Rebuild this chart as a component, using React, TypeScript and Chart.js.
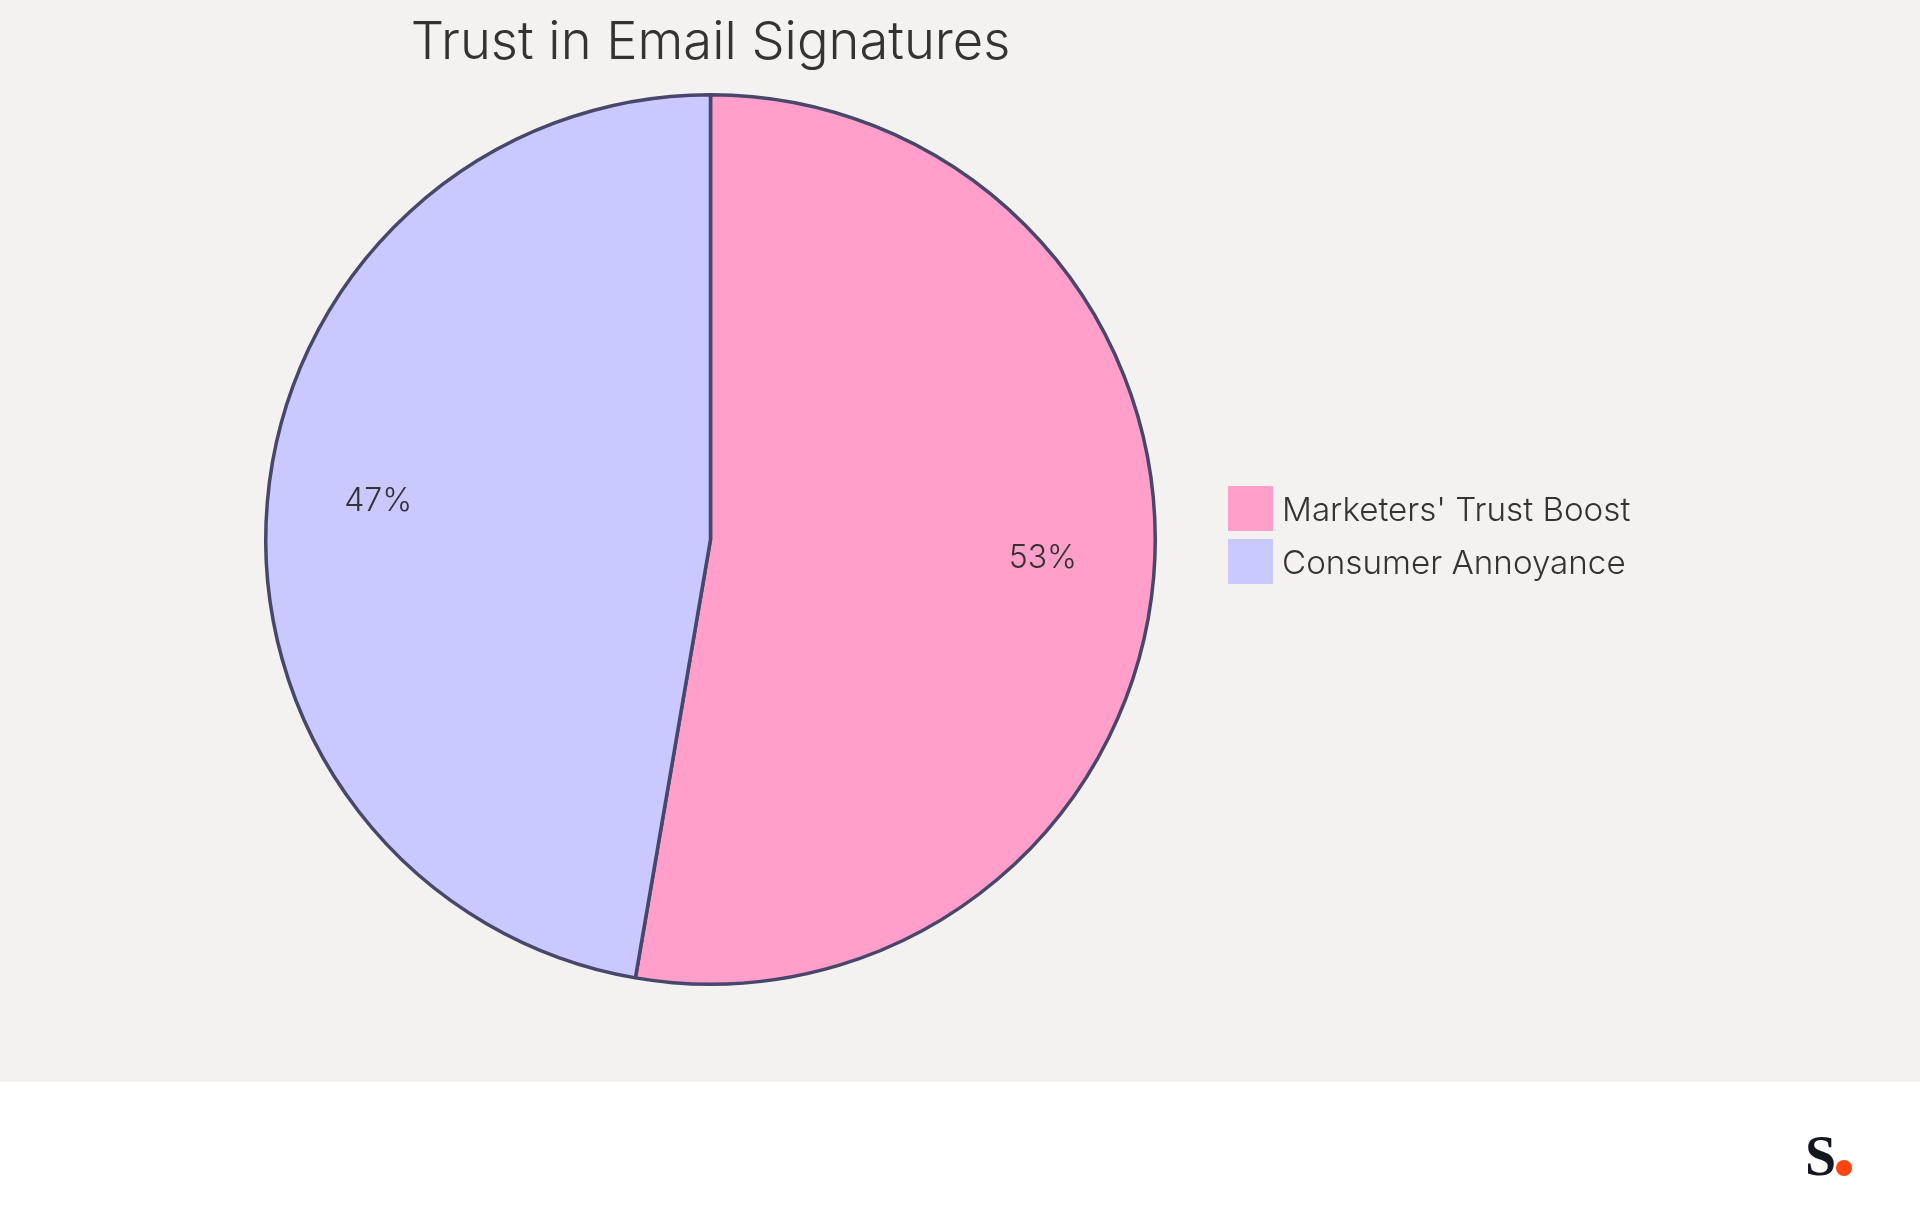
import { Chart, registerables, type Plugin } from "chart.js"
import { useEffect, useRef } from "react"

Chart.register(...registerables)

const categories = ["Marketers' Trust Boost", "Consumer Annoyance"]
const shares = [52.7, 47.3]
const sliceColors = ["#ff9fca", "#c9c9ff"]
const chartTitle = "Trust in Email Signatures"

const FONT = "Inter, sans-serif"
const INK = "#333333"

// mermaid style percent labels, baseline sits at 3/4 of the radius
const percentLabels: Plugin<"pie"> = {
	id: "percentLabels",
	afterDatasetsDraw(chart) {
		const { ctx } = chart
		const arcs = chart.getDatasetMeta(0).data as any[]
		const total = shares.reduce((a, b) => a + b, 0)
		ctx.save()
		ctx.font = `300 32px ${FONT}`
		ctx.fillStyle = INK
		ctx.textAlign = "center"
		ctx.textBaseline = "alphabetic"
		arcs.forEach((arc, i) => {
			const mid = (arc.startAngle + arc.endAngle) / 2
			const r = arc.outerRadius * 0.75
			const text = `${Math.round((shares[i] / total) * 100)}%`
			ctx.fillText(text, arc.x + Math.cos(mid) * r, arc.y + Math.sin(mid) * r)
		})
		ctx.restore()
	},
}

export default function App() {
	const chartRef = useRef<HTMLCanvasElement>(null)

	useEffect(() => {
		document.body.style.margin = "0"
		if (!chartRef.current) return

		const chart = new Chart(chartRef.current, {
			type: "pie",
			data: {
				labels: categories,
				datasets: [
					{
						data: shares,
						backgroundColor: sliceColors,
						borderColor: "#46476a",
						borderWidth: 3.5,
						hoverOffset: 0,
					},
				],
			},
			options: {
				responsive: false,
				animation: false,
				layout: { padding: { left: 264, right: 763, top: 12, bottom: 96 } },
				plugins: {
					legend: { display: false },
					tooltip: { enabled: false },
					title: {
						display: true,
						text: chartTitle,
						fullSize: false,
						color: INK,
						font: { family: FONT, size: 52.5, weight: "300" },
						padding: { top: 0, bottom: 18 },
					},
				},
			},
			plugins: [percentLabels],
		})

		return () => chart.destroy()
	}, [])

	return (
		<div style={{ position: "absolute", left: 0, top: 0, width: 1920, height: 1215, background: "#ffffff", overflow: "hidden" }}>
			<div style={{ position: "absolute", left: 0, top: 0, width: 1920, height: 1082, background: "#f4f2f0" }}>
				<canvas ref={chartRef} width={1920} height={1082} style={{ display: "block" }}></canvas>
			</div>
			{categories.map((name, i) => (
				<div key={name}>
					<div style={{ position: "absolute", left: 1228, top: 486 + i * 53, width: 45, height: 45, background: sliceColors[i] }}></div>
					<div style={{ position: "absolute", left: 1282, top: 487 + i * 53, height: 45, font: `300 33.2px/45px ${FONT}`, color: INK, whiteSpace: "nowrap" }}>
						{name}
					</div>
				</div>
			))}
			<div style={{ position: "absolute", left: 1805, top: 1121, font: "bold 56px/70px 'Liberation Serif', serif", color: "#14171f" }}>S</div>
			<div style={{ position: "absolute", left: 1836, top: 1160, width: 16, height: 16, borderRadius: "50%", background: "#ff4512" }}></div>
		</div>
	)
}
